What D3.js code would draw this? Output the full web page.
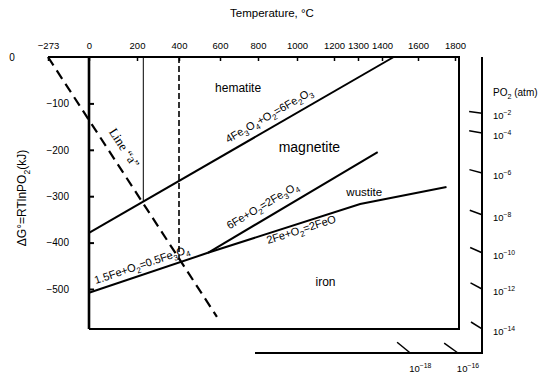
<!DOCTYPE html>
<html>
<head>
<meta charset="utf-8">
<script src="https://cdn.jsdelivr.net/npm/d3@7"></script>
<style>
  body { margin: 0; background: #fff; }
  text { font-family: 'Liberation Sans', Arial, sans-serif; fill: #000; }
</style>
</head>
<body>
<svg id="chart" width="543" height="376"></svg>
<script>
// temperature ticks (°C) and free energy ticks (kJ)
const tempTicks = [-273, 0, 200, 400, 600, 800, 1000, 1200, 1300, 1400, 1600, 1800]
const gTicks = [0, -100, -200, -300, -400, -500]

// equilibrium lines as [T °C, ΔG kJ]
const hematiteLine = [[0, -379], [1465, 0]]
const fe3o4Line = [[0, -508], [541, -422]]
const feoFe3o4Line = [[541, -422], [1382, -205]]
const feFeoLine = [[541, -422], [1309, -317], [1754, -280]]
const lineA = [[-273, 0], [585, -560]]
const solidMarker = [[230, 0], [230, -311]]
const dashedMarker = [[400, 0], [400, -437]]

// pO2 nomogram: exponent and where its tick meets the scale
const po2Right = [-2, -4, -6, -8, -10, -12, -14]
const po2RightG = [-121, -164, -250, -340, -422, -500, -586]
const po2Bottom = [-16, -18]
const po2BottomT = [1816, 1557]

const svg = d3.select('#chart')

// the old scan is not quite linear, so follow its tick positions
const x = d3.scaleLinear()
  .domain(tempTicks)
  .range([48, 89, 137, 179, 220, 258, 297, 334, 358, 382, 418, 455])

const y = d3.scaleLinear()
  .domain([0, -500])
  .range([57, 289])

const frameRight = 459
const frameBottom = 329
const scaleX = 482
const scaleY = 353

const line = d3.line().x(d => x(d[0])).y(d => y(d[1]))

// frame
svg.append('path')
  .attr('d', `M${x(-273)},${y(0)}H${frameRight}V${frameBottom}H${x(0)}`)
  .attr('fill', 'none')
  .attr('stroke', '#000')
  .attr('stroke-width', 2)

svg.append('line')
  .attr('x1', x(0)).attr('x2', x(0))
  .attr('y1', y(0)).attr('y2', frameBottom)
  .attr('stroke', '#000')
  .attr('stroke-width', 2.6)

// pO2 scale bracket
svg.append('path')
  .attr('d', `M${scaleX},${y(0)}V${scaleY}H255`)
  .attr('fill', 'none')
  .attr('stroke', '#000')
  .attr('stroke-width', 2)

// top axis
const minus = d => String(d).replace('-', '\u2212')

svg.append('g')
  .attr('transform', `translate(0,${y(0)})`)
  .call(d3.axisTop(x).tickValues(tempTicks).tickSize(-4).tickSizeOuter(0).tickPadding(8).tickFormat(minus))
  .call(g => g.select('.domain').remove())
  .call(g => g.selectAll('line').attr('stroke-width', 1.5))
  .call(g => g.selectAll('text').attr('font-size', 9.5).attr('font-family', null))

// left axis
svg.append('g')
  .attr('transform', `translate(${x(0)},0)`)
  .call(d3.axisLeft(y).tickValues(gTicks.slice(1)).tickSize(-5).tickSizeOuter(0).tickPadding(20).tickFormat(minus))
  .call(g => g.select('.domain').remove())
  .call(g => g.selectAll('line').attr('stroke-width', 2))
  .call(g => g.selectAll('text').attr('font-size', 10).attr('font-family', null))

svg.append('text')
  .attr('x', 12)
  .attr('y', y(gTicks[0]))
  .attr('dy', '0.35em')
  .attr('text-anchor', 'middle')
  .attr('font-size', 10)
  .text(gTicks[0])

// text with _sub and ^sup parts
function rich(text, str, size) {
  let shift = 0
  const parts = str.match(/_\{[^}]*\}|\^\{[^}]*\}|_.|\^.|[^_^]+/g)
  parts.forEach(p => {
    let kind = 0
    let s = p
    if (p[0] === '_') { kind = 0.3; s = p.slice(1) }
    if (p[0] === '^') { kind = -0.4; s = p.slice(1) }
    s = s.replace(/[{}]/g, '')
    const target = kind * size
    text.append('tspan')
      .attr('dy', target - shift)
      .attr('font-size', kind ? size * 0.72 : size)
      .text(s)
    shift = target
  })
  return text
}

// equilibrium lines
const solid = [hematiteLine, fe3o4Line, feoFe3o4Line, feFeoLine]
svg.append('g')
  .selectAll('path')
  .data(solid)
  .enter()
  .append('path')
  .attr('d', line)
  .attr('fill', 'none')
  .attr('stroke', '#000')
  .attr('stroke-width', 2)

svg.append('path')
  .attr('d', line(lineA))
  .attr('fill', 'none')
  .attr('stroke', '#000')
  .attr('stroke-width', 2.2)
  .attr('stroke-dasharray', '10,6')

svg.append('path')
  .attr('d', line(solidMarker))
  .attr('stroke', '#000')
  .attr('stroke-width', 1)

svg.append('path')
  .attr('d', line(dashedMarker))
  .attr('stroke', '#000')
  .attr('stroke-width', 1.6)
  .attr('stroke-dasharray', '6,3')

// labels laid along a line segment
function lineLabel(str, a, b, t, offset, size, font) {
  const x0 = x(a[0]), y0 = y(a[1]), x1 = x(b[0]), y1 = y(b[1])
  const ang = Math.atan2(y1 - y0, x1 - x0)
  const px = x0 + (x1 - x0) * t + Math.sin(ang) * offset
  const py = y0 + (y1 - y0) * t - Math.cos(ang) * offset
  const txt = svg.append('text')
    .attr('transform', `translate(${px},${py}) rotate(${ang * 180 / Math.PI})`)
    .attr('text-anchor', 'middle')
    .attr('dy', '0.35em')
  if (font) txt.style('font-family', font)
  return rich(txt, str, size)
}

lineLabel('4Fe_3O_4+O_2=6Fe_2O_3', hematiteLine[0], hematiteLine[1], 0.61, 8, 11)
lineLabel('6Fe+O_2=2Fe_3O_4', feoFe3o4Line[0], feoFe3o4Line[1], 0.36, 9, 11)
lineLabel('2Fe+O_2=2FeO', feFeoLine[0], feFeoLine[1], 0.6, -10, 11)
lineLabel('1.5Fe+O_2=0.5Fe_3O_4', fe3o4Line[0], fe3o4Line[1], 0.47, 6, 11)
lineLabel('Line \u201ca\u201d', lineA[0], lineA[1], 0.38, 10, 13, "'Liberation Serif', serif")

// phase fields
const fields = [['hematite', 695, -67, 12], ['magnetite', 1067, -194, 14], ['wustite', 1326, -291, 11.5], ['iron', 1154, -485, 12]]
svg.append('g')
  .selectAll('text')
  .data(fields)
  .enter()
  .append('text')
  .attr('x', d => x(d[1]))
  .attr('y', d => y(d[2]))
  .attr('dy', '0.35em')
  .attr('text-anchor', 'middle')
  .attr('font-size', d => d[3])
  .text(d => d[0])

// pO2 ticks point back to 0 K, ΔG = 0
const ox = x(-273), oy = y(0)
function radial(ex, ey, len) {
  const dx = ox - ex, dy = oy - ey
  const n = Math.hypot(dx, dy)
  return [ex + dx / n * len, ey + dy / n * len]
}

po2Right.forEach((p, i) => {
  const ey = y(po2RightG[i])
  const s = radial(scaleX, ey, 13)
  svg.append('line')
    .attr('x1', s[0]).attr('y1', s[1])
    .attr('x2', scaleX).attr('y2', ey)
    .attr('stroke', '#000')
    .attr('stroke-width', 1.5)
  rich(svg.append('text').attr('x', 493).attr('y', ey + 6), `10^{\u2212${-p}}`, 9.5)
})

po2Bottom.forEach((p, i) => {
  const ex = x(po2BottomT[i])
  const s = radial(ex, scaleY, 17)
  svg.append('line')
    .attr('x1', s[0]).attr('y1', s[1])
    .attr('x2', ex).attr('y2', scaleY)
    .attr('stroke', '#000')
    .attr('stroke-width', 1.5)
  rich(svg.append('text').attr('x', ex + 10).attr('y', 372).attr('text-anchor', 'middle'), `10^{\u2212${-p}}`, 9.5)
})

// titles
svg.append('text')
  .attr('x', 272)
  .attr('y', 17)
  .attr('text-anchor', 'middle')
  .attr('font-size', 11.5)
  .text('Temperature, \u00b0C')

rich(svg.append('text').attr('x', 493).attr('y', 96), 'PO_2 (atm)', 10)

rich(svg.append('text')
  .attr('transform', 'translate(26,198) rotate(-90)')
  .attr('text-anchor', 'middle'), '\u0394G\u00b0=RTlnPO_2(kJ)', 12)
</script>
</body>
</html>
